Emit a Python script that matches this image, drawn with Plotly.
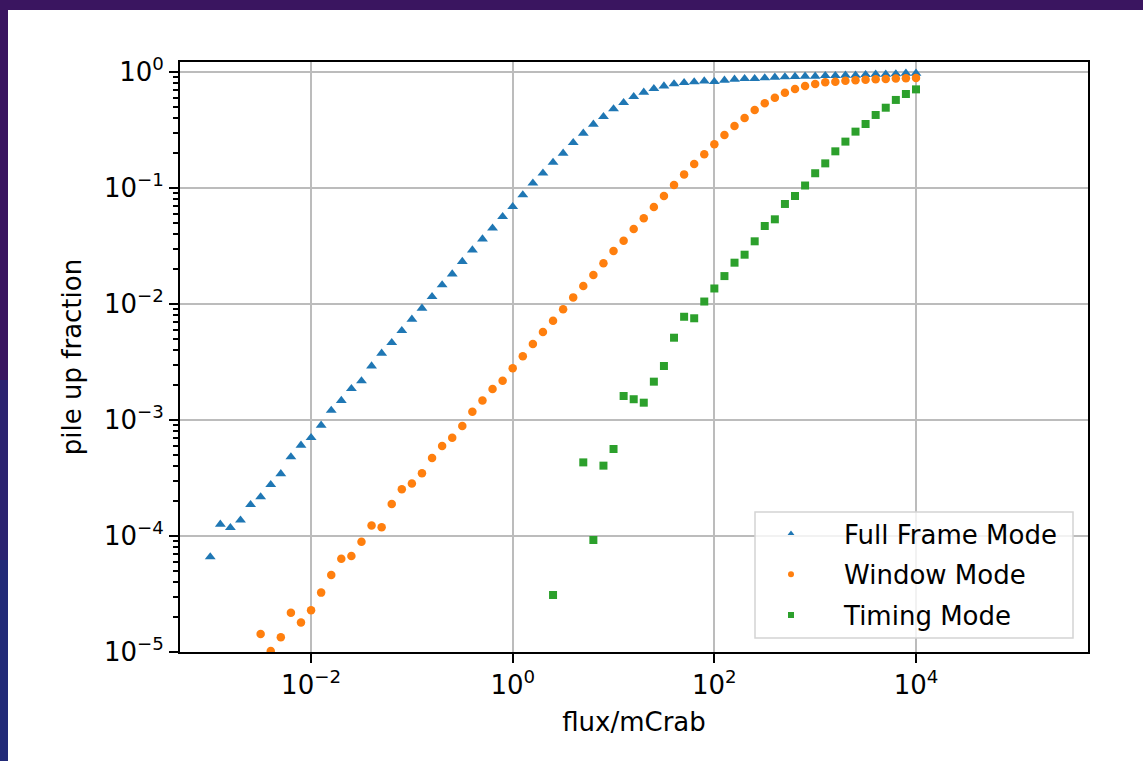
import plotly.graph_objects as go

# ---------------- data ----------------
flux = [1e-3, 1.259e-3, 1.585e-3, 1.995e-3, 2.512e-3, 3.162e-3, 3.981e-3, 5.012e-3, 6.31e-3, 7.943e-3,
        1e-2, 1.259e-2, 1.585e-2, 1.995e-2, 2.512e-2, 3.162e-2, 3.981e-2, 5.012e-2, 6.31e-2, 7.943e-2,
        0.1, 0.1259, 0.1585, 0.1995, 0.2512, 0.3162, 0.3981, 0.5012, 0.631, 0.7943,
        1, 1.259, 1.585, 1.995, 2.512, 3.162, 3.981, 5.012, 6.31, 7.943,
        10, 12.59, 15.85, 19.95, 25.12, 31.62, 39.81, 50.12, 63.1, 79.43,
        100, 125.9, 158.5, 199.5, 251.2, 316.2, 398.1, 501.2, 631, 794.3,
        1000, 1259, 1585, 1995, 2512, 3162, 3981, 5012, 6310, 7943,
        10000]

full_frame = [6.6e-5, 1.26e-4, 1.18e-4, 1.37e-4, 1.86e-4, 2.17e-4, 2.77e-4, 3.44e-4, 4.80e-4, 6.05e-4,
              7.03e-4, 9.0e-4, 1.21e-3, 1.47e-3, 1.86e-3, 2.17e-3, 2.92e-3, 3.76e-3, 4.64e-3, 5.89e-3,
              7.38e-3, 9.18e-3, 1.156e-2, 1.46e-2, 1.81e-2, 2.32e-2, 2.92e-2, 3.63e-2, 4.50e-2, 5.66e-2,
              6.90e-2, 8.71e-2, 0.110, 0.134, 0.166, 0.199, 0.246, 0.296, 0.354, 0.412,
              0.480, 0.544, 0.612, 0.668, 0.718, 0.757, 0.788, 0.809, 0.820, 0.836,
              0.825, 0.848, 0.865, 0.876, 0.876, 0.888, 0.900, 0.906, 0.912, 0.918,
              0.918, 0.930, 0.930, 0.936, 0.936, 0.948, 0.955, 0.955, 0.961, 0.974,
              0.975]

flux_window = [3.162e-3, 3.981e-3, 5.012e-3, 6.31e-3, 7.943e-3,
               1e-2, 1.259e-2, 1.585e-2, 1.995e-2, 2.512e-2, 3.162e-2, 3.981e-2, 5.012e-2, 6.31e-2, 7.943e-2,
               0.1, 0.1259, 0.1585, 0.1995, 0.2512, 0.3162, 0.3981, 0.5012, 0.631, 0.7943,
               1, 1.259, 1.585, 1.995, 2.512, 3.162, 3.981, 5.012, 6.31, 7.943,
               10, 12.59, 15.85, 19.95, 25.12, 31.62, 39.81, 50.12, 63.1, 79.43,
               100, 125.9, 158.5, 199.5, 251.2, 316.2, 398.1, 501.2, 631, 794.3,
               1000, 1259, 1585, 1995, 2512, 3162, 3981, 5012, 6310, 7943,
               10000]

window = [1.43e-5, 1.02e-5, 1.34e-5, 2.18e-5, 1.80e-5,
          2.29e-5, 3.25e-5, 4.61e-5, 6.37e-5, 6.72e-5, 8.93e-5, 1.23e-4, 1.19e-4, 1.89e-4, 2.53e-4,
          2.83e-4, 3.47e-4, 4.70e-4, 5.97e-4, 7.03e-4, 8.87e-4, 1.18e-3, 1.47e-3, 1.85e-3, 2.18e-3,
          2.79e-3, 3.54e-3, 4.52e-3, 5.74e-3, 7.18e-3, 9.00e-3, 1.14e-2, 1.43e-2, 1.78e-2, 2.24e-2,
          2.86e-2, 3.51e-2, 4.43e-2, 5.48e-2, 6.86e-2, 8.53e-2, 0.106, 0.131, 0.161, 0.195,
          0.238, 0.286, 0.342, 0.401, 0.470, 0.537, 0.600, 0.663, 0.713, 0.757,
          0.788, 0.815, 0.825, 0.841, 0.848, 0.859, 0.865, 0.871, 0.877, 0.882,
          0.888]

flux_timing = [2.512, 5.012, 6.31, 7.943,
               10, 12.59, 15.85, 19.95, 25.12, 31.62, 39.81, 50.12, 63.1, 79.43,
               100, 125.9, 158.5, 199.5, 251.2, 316.2, 398.1, 501.2, 631, 794.3,
               1000, 1259, 1585, 1995, 2512, 3162, 3981, 5012, 6310, 7943,
               10000]

timing = [3.10e-5, 4.31e-4, 9.24e-5, 4.04e-4,
          5.62e-4, 1.61e-3, 1.51e-3, 1.41e-3, 2.14e-3, 2.92e-3, 5.12e-3, 7.76e-3, 7.53e-3, 1.05e-2,
          1.36e-2, 1.74e-2, 2.27e-2, 2.66e-2, 3.47e-2, 4.70e-2, 5.37e-2, 7.28e-2, 8.53e-2, 0.105,
          0.134, 0.163, 0.207, 0.251, 0.306, 0.356, 0.426, 0.492, 0.574, 0.646,
          0.708]

series_names = ["Full Frame Mode", "Window Mode", "Timing Mode"]

x_tick_exp = [-2, 0, 2, 4]
y_tick_exp = [-5, -4, -3, -2, -1, 0]


def power_label(e):
    return "10<sup>" + ("\u2212" if e < 0 else "") + str(abs(e)) + "</sup>"


x_tick_vals = [10.0 ** e for e in x_tick_exp]
x_tick_text = [power_label(e) for e in x_tick_exp]
y_tick_vals = [10.0 ** e for e in y_tick_exp]
y_tick_text = [power_label(e) for e in y_tick_exp]
y_minor_vals = [k * 10.0 ** e for e in y_tick_exp[:-1] for k in range(2, 10)]

# ---------------- styling ----------------
BLUE, ORANGE, GREEN = "#1f77b4", "#ff7f0e", "#2ca02c"
FONT = "DejaVu Sans"
FS = 26
SLIDE = "#3a1560"

# plot-area geometry in pixels
W, H = 1143, 761
L, R, T, B = 180, 1088, 62, 652
PW, PH = R - L, B - T


def px(xp):
    return (xp - L) / PW


def py(yp):
    return (B - yp) / PH


fig = go.Figure()

specs = [
    (flux, full_frame, BLUE, "triangle-up", 9.5),
    (flux_window, window, ORANGE, "circle", 8.5),
    (flux_timing, timing, GREEN, "square", 8),
]
for (xs, ys, col, sym, sz), name in zip(specs, series_names):
    fig.add_trace(go.Scatter(
        x=xs, y=ys, mode="markers", name=name, showlegend=False,
        marker=dict(color=col, symbol=sym, size=sz, line=dict(width=0)),
        cliponaxis=True,
    ))

# legend-only entries with the small legend markers of the reference
for (xs, ys, col, sym, sz), name in zip(specs, series_names):
    fig.add_trace(go.Scatter(
        x=[None], y=[None], mode="markers", name="\u00a0\u00a0\u00a0\u00a0" + name,
        legendgroup=name,
        marker=dict(color=col, symbol=sym, size=6, line=dict(width=0)),
    ))

axis_common = dict(
    type="log",
    showline=True, linecolor="black", linewidth=2, mirror=True,
    ticks="outside", ticklen=9, tickwidth=2, tickcolor="black",
    showgrid=True, gridcolor="#bcbcbc", gridwidth=1.6,
    zeroline=False,
    tickfont=dict(family=FONT, size=FS, color="black"),
    tickmode="array",
)

fig.update_layout(
    width=W, height=H,
    margin=dict(l=L, r=W - R, t=T, b=H - B, autoexpand=False),
    paper_bgcolor=SLIDE,
    plot_bgcolor="white",
    font=dict(family=FONT, size=FS, color="black"),
    showlegend=True,
    legend=dict(
        x=px(771), y=py(510), xanchor="left", yanchor="top",
        bgcolor="rgba(0,0,0,0)", borderwidth=0,
        font=dict(family=FONT, size=FS, color="black"),
        tracegroupgap=4,
    ),
    xaxis=dict(
        axis_common,
        range=[-3.30, 5.706],
        tickvals=x_tick_vals, ticktext=x_tick_text,
        title=dict(text="flux/mCrab", font=dict(family=FONT, size=FS, color="black"), standoff=14),
    ),
    yaxis=dict(
        axis_common,
        range=[-5, 0.086],
        tickvals=y_tick_vals, ticktext=y_tick_text,
        minor=dict(tickmode="array", tickvals=y_minor_vals, ticks="outside", ticklen=5,
                   tickwidth=1.5, tickcolor="black", showgrid=False),
        title=dict(text="pile up fraction", font=dict(family=FONT, size=FS, color="black"), standoff=15),
    ),
    shapes=[
        # slide background: bluish strip at lower left
        dict(type="rect", xref="paper", yref="paper", layer="below",
             x0=px(-5), x1=px(12), y0=py(380), y1=py(770),
             fillcolor="#2b2370", line=dict(width=0)),
        dict(type="rect", xref="paper", yref="paper", layer="below",
             x0=px(-5), x1=px(12), y0=py(560), y1=py(770),
             fillcolor="#222a78", line=dict(width=0)),
        # white figure panel
        dict(type="rect", xref="paper", yref="paper", layer="below",
             x0=px(8), x1=px(1160), y0=py(780), y1=py(10),
             fillcolor="white", line=dict(width=0)),
        # legend frame
        dict(type="rect", xref="paper", yref="paper", layer="above",
             x0=px(755), x1=px(1073), y0=py(638), y1=py(512),
             fillcolor="rgba(255,255,255,0.8)", line=dict(color="#d4d4d4", width=1.5)),
    ],
)

fig.write_html(
    "out.html",
    config={"displayModeBar": False},
    post_script="document.body.style.margin='0';document.body.style.background='" + SLIDE + "';",
)
